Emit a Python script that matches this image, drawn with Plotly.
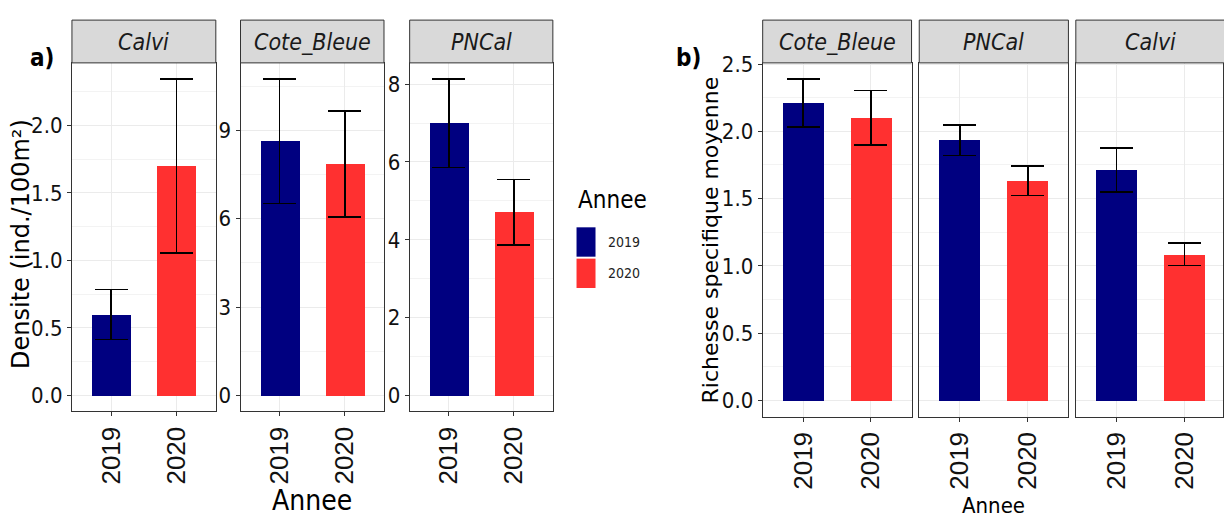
import plotly.graph_objects as go

W, H = 1224, 519

# ---------------- data ----------------
years = ["2019", "2020"]
year_colors = ["#000080", "#FF3030"]

# panel a) density (ind./100m²), mean and standard error
dens_sites = ["Calvi", "Cote_Bleue", "PNCal"]
dens_calvi = [0.60, 1.70]
dens_calvi_se = [0.185, 0.645]
dens_cote = [8.63, 7.86]
dens_cote_se = [2.12, 1.80]
dens_pncal = [7.00, 4.71]
dens_pncal_se = [1.14, 0.84]
dens_ticks_calvi = [0.0, 0.5, 1.0, 1.5, 2.0]
dens_ticks_cote = [0, 3, 6, 9]
dens_ticks_pncal = [0, 2, 4, 6, 8]

# panel b) mean species richness
rich_sites = ["Cote_Bleue", "PNCal", "Calvi"]
rich_cote = [2.21, 2.10]
rich_cote_se = [0.179, 0.204]
rich_pncal = [1.935, 1.633]
rich_pncal_se = [0.114, 0.110]
rich_calvi = [1.712, 1.085]
rich_calvi_se = [0.163, 0.083]
rich_ticks = [0.0, 0.5, 1.0, 1.5, 2.0, 2.5]

NARROW = "DejaVu Sans Condensed, Liberation Sans Narrow, Liberation Sans, Arial, sans-serif"
SANS = "Liberation Sans, Arial, sans-serif"
WIDE = "DejaVu Sans, Liberation Sans, sans-serif"
TXT = "#111111"
BORDER = "#333333"
GRID = "#EBEBEB"
GRID_MINOR = "#F3F3F3"


def px(x):
    return x / W


def py(y):
    return 1 - y / H


fig = go.Figure()

panels = [
    (dens_calvi, dens_calvi_se, dens_ticks_calvi, 0.25, 72, 216, 53, 409, True, "a", dens_sites[0]),
    (dens_cote, dens_cote_se, dens_ticks_cote, 1.5, 240.7, 384.3, 53, 409, True, "a", dens_sites[1]),
    (dens_pncal, dens_pncal_se, dens_ticks_pncal, 1.0, 410, 553.3, 53, 409, True, "a", dens_sites[2]),
    (rich_cote, rich_cote_se, rich_ticks, 0.25, 763.3, 912.3, 53, 414.3, True, "b", rich_sites[0]),
    (rich_pncal, rich_pncal_se, rich_ticks, 0.25, 920, 1069.3, 53, 414.3, False, "b", rich_sites[1]),
    (rich_calvi, rich_calvi_se, rich_ticks, 0.25, 1076.7, 1226, 53, 414.3, False, "b", rich_sites[2]),
]

# shared y scale for panel b, free scales for panel a
b_max = max(max(m + s for m, s in zip(mm, ss)) for mm, ss in
            [(rich_cote, rich_cote_se), (rich_pncal, rich_pncal_se), (rich_calvi, rich_calvi_se)])

shapes = []
annotations = []

for i, (means, se, ticks, minor_dt, x0, x1, y0, y1, showy, grp, site) in enumerate(panels):
    k = "" if i == 0 else str(i + 1)
    xa, ya = "xaxis" + k, "yaxis" + k
    top = b_max if grp == "b" else max(m + s for m, s in zip(means, se))
    yr = [-0.05 * top, 1.05 * top]

    unit = (x1 - x0) / 2.2
    x1c = min(x1, W)
    xr = [-0.6, -0.6 + (x1c - x0) / unit]

    fig.add_trace(go.Bar(
        x=years, y=means,
        marker=dict(color=year_colors, line=dict(width=0)),
        width=0.6,
        error_y=dict(type="data", array=se, visible=True, color="black",
                     thickness=1.6, width=16.5),
        xaxis="x" + k, yaxis="y" + k, showlegend=False,
        hoverinfo="x+y",
    ))

    fmt = ".1f" if isinstance(ticks[0], float) else "d"
    fig.update_layout(**{
        xa: dict(domain=[px(x0), px(x1c)], anchor="y" + k, type="category",
                 range=xr, tickangle=-90, ticks="outside", ticklen=4,
                 tickcolor=BORDER, tickwidth=1,
                 tickfont=dict(family=SANS, size=26, color=TXT),
                 showgrid=True, gridcolor=GRID, gridwidth=1.2,
                 showline=True, linecolor=BORDER, linewidth=1, mirror=True,
                 zeroline=False, fixedrange=True),
        ya: dict(domain=[py(y1), py(y0)], anchor="x" + k, range=yr,
                 tickvals=ticks, tickformat=fmt,
                 showticklabels=showy, ticks="outside" if showy else "",
                 ticklen=4, tickcolor=BORDER, tickwidth=1,
                 tickfont=dict(family=NARROW, size=22, color=TXT),
                 showgrid=True, gridcolor=GRID, gridwidth=1.2,
                 minor=dict(dtick=minor_dt, tick0=0, showgrid=True,
                            gridcolor=GRID_MINOR, gridwidth=0.8),
                 showline=True, linecolor=BORDER, linewidth=1, mirror=True,
                 zeroline=False, fixedrange=True),
    })

    shapes.append(dict(type="rect", xref="paper", yref="paper",
                       x0=px(x0), x1=px(x1), y0=py(53), y1=py(9.3),
                       fillcolor="#D9D9D9", line=dict(color=BORDER, width=1),
                       layer="above"))
    annotations.append(dict(text="<i>%s</i>" % site, xref="paper", yref="paper",
                            x=px((x0 + x1) / 2), y=py(31.5), showarrow=False,
                            xanchor="center", yanchor="middle",
                            font=dict(family=NARROW, size=23, color="#1A1A1A")))

# panel labels
annotations.append(dict(text="<b>a)</b>", xref="paper", yref="paper", x=px(42), y=py(48),
                        showarrow=False, xanchor="center", yanchor="middle",
                        font=dict(family=NARROW, size=24, color="black")))
annotations.append(dict(text="<b>b)</b>", xref="paper", yref="paper", x=px(689), y=py(48),
                        showarrow=False, xanchor="center", yanchor="middle",
                        font=dict(family=NARROW, size=24, color="black")))

# axis titles
annotations.append(dict(text="Densite (ind./100m²)", xref="paper", yref="paper",
                        x=px(21), y=py(238), textangle=-90, showarrow=False,
                        xanchor="center", yanchor="middle",
                        font=dict(family=WIDE, size=24, color="black")))
annotations.append(dict(text="Richesse specifique moyenne", xref="paper", yref="paper",
                        x=px(711), y=py(234), textangle=-90, showarrow=False,
                        xanchor="center", yanchor="middle",
                        font=dict(family=WIDE, size=22, color="black")))
annotations.append(dict(text="Annee", xref="paper", yref="paper",
                        x=px(312), y=py(500), showarrow=False,
                        xanchor="center", yanchor="middle",
                        font=dict(family=NARROW, size=28, color="black")))
annotations.append(dict(text="Annee", xref="paper", yref="paper",
                        x=px(994), y=py(505), showarrow=False,
                        xanchor="center", yanchor="middle",
                        font=dict(family=NARROW, size=22, color="black")))

# legend
annotations.append(dict(text="Annee", xref="paper", yref="paper",
                        x=px(576), y=py(193), showarrow=False,
                        xanchor="left", yanchor="middle",
                        font=dict(family=NARROW, size=24, color="black")))
for j, (yr_lab, col) in enumerate(zip(years, year_colors)):
    ky0 = 221 + j * 32
    shapes.append(dict(type="rect", xref="paper", yref="paper",
                       x0=px(577), x1=px(596), y0=py(ky0 + 30), y1=py(ky0),
                       fillcolor=col, line=dict(width=0)))
    annotations.append(dict(text=yr_lab, xref="paper", yref="paper",
                            x=px(606), y=py(ky0 + 15), showarrow=False,
                            xanchor="left", yanchor="middle",
                            font=dict(family=NARROW, size=14, color="#222222")))

fig.update_layout(
    width=W, height=H,
    margin=dict(l=0, r=0, t=0, b=0),
    paper_bgcolor="white", plot_bgcolor="white",
    shapes=shapes, annotations=annotations,
    showlegend=False, bargap=0,
)

fig.write_html("out.html")
